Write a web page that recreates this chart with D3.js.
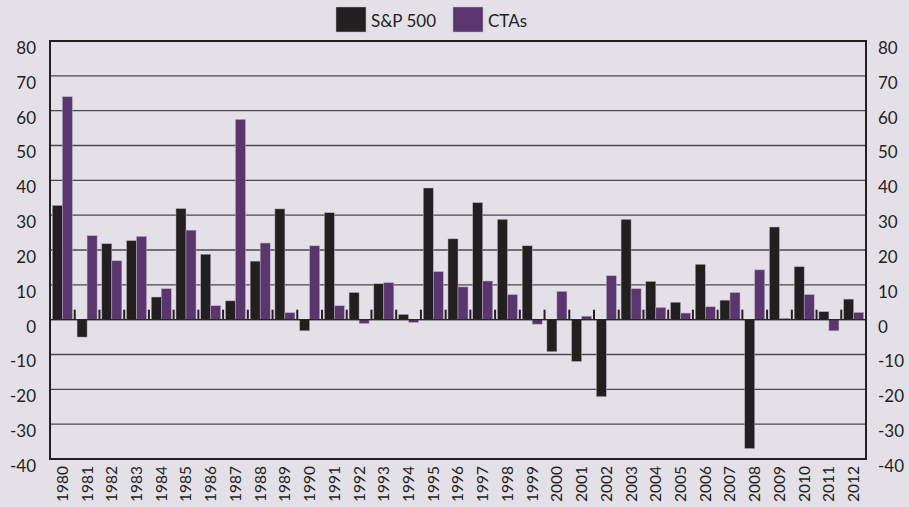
<!DOCTYPE html>
<html>
<head>
<meta charset="utf-8">
<script src="https://cdn.jsdelivr.net/npm/d3@7"></script>
<style>
  html, body { margin: 0; padding: 0; background: #e4e0e8; }
  svg { display: block; font-family: Lato, "Open Sans", sans-serif; }
</style>
</head>
<body>
<svg id="chart" width="909" height="507"></svg>
<script>
const years = ["1980","1981","1982","1983","1984","1985","1986","1987","1988","1989",
  "1990","1991","1992","1993","1994","1995","1996","1997","1998","1999",
  "2000","2001","2002","2003","2004","2005","2006","2007","2008","2009",
  "2010","2011","2012"];
const seriesNames = ["S&P 500", "CTAs"];
const sp500 = [32.8, -5.0, 21.8, 22.7, 6.5, 31.9, 18.8, 5.4, 16.8, 31.8,
  -3.2, 30.7, 7.8, 10.3, 1.5, 37.8, 23.2, 33.6, 28.8, 21.2,
  -9.2, -12.0, -22.1, 28.8, 11.0, 5.0, 15.9, 5.6, -37.0, 26.6,
  15.2, 2.3, 5.9];
const ctas = [64.0, 24.1, 16.9, 23.9, 8.9, 25.7, 4.0, 57.5, 22.0, 2.0,
  21.2, 4.0, -1.1, 10.6, -0.8, 13.8, 9.4, 11.1, 7.2, -1.3,
  8.1, 1.0, 12.6, 8.9, 3.5, 1.9, 3.7, 7.8, 14.3, 0.4,
  7.2, -3.2, 2.1];
const yTicks = [-40, -30, -20, -10, 0, 10, 20, 30, 40, 50, 60, 70, 80];
const colors = ["#231f20", "#5b356d"];

const svg = d3.select("#chart");
const plotLeft = 50, plotRight = 866, plotTop = 41, plotBottom = 459;

const x = d3.scaleBand().domain(years).range([plotLeft, plotRight]).padding(0);
const bw = x.bandwidth();
const xs = d3.scaleBand().domain(seriesNames).range([bw * 0.095, bw * 0.905]).padding(0);
const y = d3.scaleLinear().domain([-40, 80]).range([plotBottom, plotTop]);

// gridlines
svg.append("g")
  .selectAll("line")
  .data(yTicks)
  .join("line")
  .attr("x1", plotLeft).attr("x2", plotRight)
  .attr("y1", d => y(d)).attr("y2", d => y(d))
  .attr("stroke", "#4a474c")
  .attr("stroke-width", 1.4);

// bars
const rows = years.map((yr, i) => ({ year: yr, values: [sp500[i], ctas[i]] }));
const groups = svg.append("g").selectAll("g")
  .data(rows).join("g")
  .attr("transform", d => `translate(${x(d.year)},0)`);
groups.selectAll("rect")
  .data(d => d.values.map((v, k) => ({ name: seriesNames[k], v, k })))
  .join("rect")
  .attr("x", d => xs(d.name))
  .attr("width", xs.bandwidth())
  .attr("y", d => y(Math.max(0, d.v)))
  .attr("height", d => Math.abs(y(d.v) - y(0)))
  .attr("fill", d => colors[d.k])
  .attr("stroke", "#b8b0c0")
  .attr("stroke-width", 0.5);

// category tick marks at zero line (between groups)
svg.append("g")
  .selectAll("line")
  .data(years.slice(1))
  .join("line")
  .attr("x1", d => x(d)).attr("x2", d => x(d))
  .attr("y1", y(0) - 10).attr("y2", y(0))
  .attr("stroke", "#231f20")
  .attr("stroke-width", 2);

// zero line
svg.append("line")
  .attr("x1", plotLeft).attr("x2", plotRight)
  .attr("y1", y(0)).attr("y2", y(0))
  .attr("stroke", "#2a2628").attr("stroke-width", 1.2);

// frame
svg.append("rect")
  .attr("x", plotLeft).attr("y", plotTop)
  .attr("width", plotRight - plotLeft).attr("height", plotBottom - plotTop)
  .attr("fill", "none").attr("stroke", "#231f20").attr("stroke-width", 2);

// y axes
const fmt = d => String(d);
const yAxisL = d3.axisLeft(y).tickValues(yTicks).tickFormat(fmt).tickSize(0).tickPadding(14);
const gL = svg.append("g").attr("transform", `translate(${plotLeft},0)`).call(yAxisL);
const yAxisR = d3.axisRight(y).tickValues(yTicks).tickFormat(fmt).tickSize(0).tickPadding(12);
const gR = svg.append("g").attr("transform", `translate(${plotRight},0)`).call(yAxisR);
[gL, gR].forEach(g => {
  g.select(".domain").remove();
  g.selectAll("text")
    .attr("font-family", "Lato, sans-serif")
    .attr("font-size", 17)
    .attr("fill", "#231f20")
    .attr("dy", "0.32em")
    .attr("transform", "translate(0,7)");
});

// x axis labels (rotated)
const xAxis = d3.axisBottom(x).tickSize(0).tickPadding(0);
const gX = svg.append("g").attr("transform", `translate(0,${plotBottom})`).call(xAxis);
gX.select(".domain").remove();
gX.selectAll("text")
  .attr("font-family", "Lato, sans-serif")
  .attr("font-size", 15.5)
  .attr("fill", "#231f20")
  .attr("text-anchor", "end")
  .attr("transform", "rotate(-90)")
  .attr("x", -7)
  .attr("y", 0)
  .attr("dy", "0.35em");

// legend
const legendX = [336, 453];
const legend = svg.append("g").selectAll("g")
  .data(seriesNames).join("g")
  .attr("transform", (d, i) => `translate(${legendX[i]},7)`);
legend.append("rect")
  .attr("width", 30).attr("height", 25)
  .attr("fill", (d, i) => colors[i])
  .attr("stroke", "#b8b0c0").attr("stroke-width", 0.5);
legend.append("text")
  .attr("x", 35).attr("y", 19.5)
  .attr("font-family", "Lato, sans-serif")
  .attr("font-size", 17)
  .attr("fill", "#231f20")
  .text(d => d);
</script>
</body>
</html>
